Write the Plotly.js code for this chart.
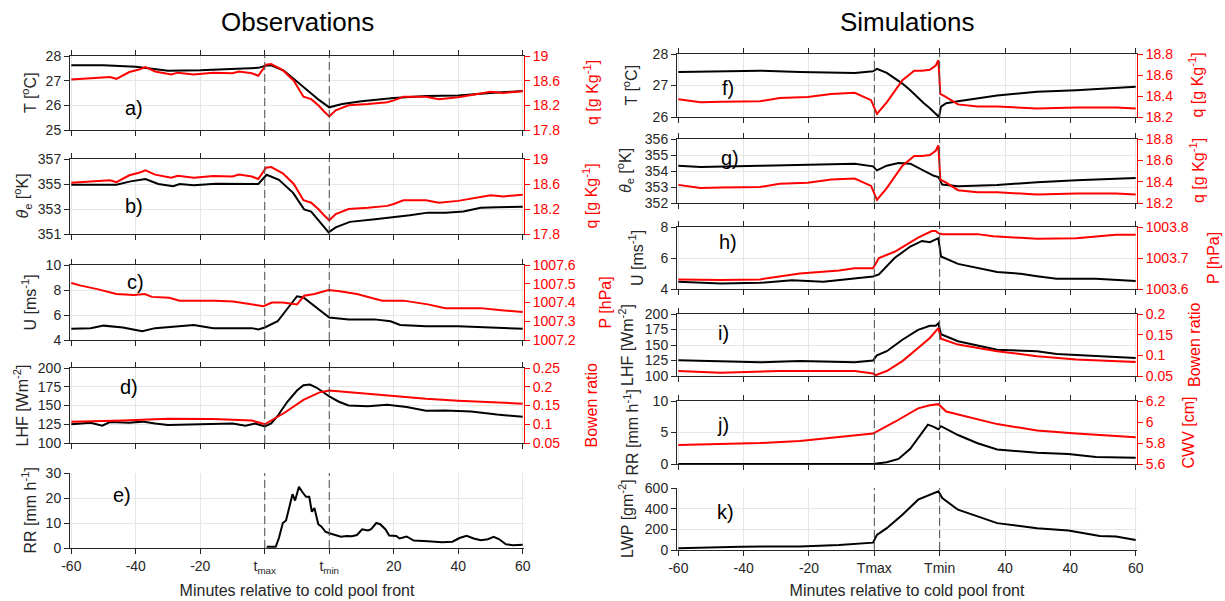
<!DOCTYPE html>
<html>
<head>
<meta charset="utf-8">
<script src="https://cdn.plot.ly/plotly-3.0.1.min.js"></script>
<style>
  html, body { margin: 0; padding: 0; background: #ffffff; }
  #chart { width: 1225px; height: 601px; }
</style>
</head>
<body>
<div id="chart"></div>
<script>
// Time axis: positions 0..7 map to the eight labelled ticks of each column.
const obsTickText = ['-60', '-40', '-20', 't<sub>max</sub>', 't<sub>min</sub>', '20', '40', '60'];
const simTickText = ['-60', '-40', '-20', 'Tmax', 'Tmin', '40', '40', '60'];
const tickPos = [0, 1, 2, 3, 4, 5, 6, 7];
const tMax = 3;
const tMin = 4;

// ---------------- Observations ----------------
const obsT_t = [0, 0.5, 1.0, 1.5, 2.0, 2.5, 2.9, 3.0, 3.1, 3.3, 3.5, 3.7, 3.85, 4.0, 4.2, 4.5, 5.0, 5.5, 6.0, 6.5, 7.0];
const obsT   = [27.63, 27.62, 27.56, 27.40, 27.42, 27.47, 27.52, 27.60, 27.62, 27.40, 26.95, 26.50, 26.20, 25.92, 26.05, 26.17, 26.30, 26.38, 26.40, 26.50, 26.58];

const obsQ_t = [0, 0.3, 0.6, 0.7, 0.9, 1.05, 1.15, 1.3, 1.55, 1.65, 1.9, 2.2, 2.5, 2.6, 2.8, 2.9, 3.02, 3.1, 3.28, 3.45, 3.6, 3.72, 3.83, 3.92, 4.0, 4.1, 4.3, 4.6, 4.9, 5.0, 5.15, 5.5, 5.7, 6.0, 6.3, 6.5, 6.7, 7.0];
const obsQ   = [18.62, 18.64, 18.66, 18.63, 18.74, 18.78, 18.82, 18.75, 18.70, 18.73, 18.70, 18.73, 18.72, 18.75, 18.72, 18.68, 18.86, 18.87, 18.77, 18.60, 18.34, 18.30, 18.20, 18.10, 18.02, 18.12, 18.20, 18.22, 18.25, 18.28, 18.34, 18.34, 18.30, 18.33, 18.38, 18.42, 18.40, 18.43];

const obsTheta_t = [0, 0.7, 0.92, 1.15, 1.35, 1.58, 1.68, 1.9, 2.24, 2.78, 2.9, 3.03, 3.22, 3.44, 3.61, 3.72, 3.88, 3.99, 4.1, 4.32, 4.71, 4.98, 5.25, 5.53, 5.8, 6.08, 6.35, 6.6, 7.0];
const obsTheta   = [354.95, 354.95, 355.21, 355.39, 355.00, 354.82, 355.00, 354.90, 355.03, 355.03, 355.00, 355.74, 355.34, 354.29, 352.97, 352.80, 351.79, 351.13, 351.53, 351.97, 352.18, 352.32, 352.50, 352.71, 352.71, 352.80, 353.10, 353.15, 353.18];

const obsU_t = [0, 0.3, 0.5, 0.8, 1.0, 1.1, 1.3, 1.6, 1.9, 2.2, 2.5, 2.8, 2.9, 3.0, 3.2, 3.35, 3.5, 3.6, 3.8, 4.0, 4.3, 4.7, 4.95, 5.1, 5.5, 6.0, 6.5, 7.0];
const obsU   = [4.90, 4.95, 5.15, 5.00, 4.80, 4.70, 4.95, 5.10, 5.20, 4.95, 4.95, 4.95, 4.85, 5.00, 5.50, 6.50, 7.50, 7.40, 6.60, 5.80, 5.65, 5.65, 5.50, 5.20, 5.10, 5.10, 5.00, 4.90];

const obsP_t = [0, 0.15, 0.42, 0.7, 0.97, 1.14, 1.25, 1.52, 1.68, 1.96, 2.24, 2.51, 2.78, 2.98, 3.11, 3.28, 3.39, 3.5, 3.61, 3.77, 3.99, 4.16, 4.43, 4.82, 5.15, 5.53, 5.8, 6.35, 6.63, 7.0];
const obsP   = [1007.504, 1007.49, 1007.47, 1007.445, 1007.44, 1007.445, 1007.43, 1007.425, 1007.41, 1007.41, 1007.41, 1007.405, 1007.39, 1007.38, 1007.40, 1007.40, 1007.395, 1007.39, 1007.436, 1007.445, 1007.466, 1007.46, 1007.445, 1007.41, 1007.41, 1007.39, 1007.37, 1007.37, 1007.36, 1007.35];

const obsLHF_t = [0, 0.3, 0.48, 0.6, 0.9, 1.1, 1.3, 1.5, 2.0, 2.5, 2.7, 2.85, 3.0, 3.1, 3.2, 3.35, 3.5, 3.6, 3.7, 3.8, 3.92, 4.0, 4.15, 4.3, 4.6, 4.9, 5.2, 5.5, 5.8, 6.2, 6.6, 7.0];
const obsLHF   = [125, 127, 123, 128, 127, 128.5, 126, 124, 125, 126, 123, 126, 122, 126, 136, 155, 170, 177, 178, 174, 167, 162, 155, 150, 149, 151, 148, 143, 143.5, 142, 138, 135];

const obsBowen_t = [0, 0.8, 1.5, 2.2, 2.8, 3.0, 3.3, 3.6, 3.85, 4.0, 4.5, 5.0, 5.5, 6.0, 6.5, 7.0];
const obsBowen   = [0.107, 0.110, 0.115, 0.114, 0.110, 0.100, 0.130, 0.165, 0.185, 0.190, 0.183, 0.175, 0.168, 0.163, 0.158, 0.155];

const obsRR_t = [3.03, 3.17, 3.22, 3.28, 3.33, 3.39, 3.43, 3.47, 3.53, 3.58, 3.64, 3.69, 3.73, 3.77, 3.83, 3.88, 3.94, 3.99, 4.1, 4.18, 4.27, 4.35, 4.43, 4.51, 4.6, 4.65, 4.73, 4.79, 4.87, 4.93, 5.04, 5.09, 5.2, 5.31, 5.53, 5.75, 5.91, 6.02, 6.13, 6.24, 6.35, 6.46, 6.55, 6.63, 6.74, 6.85, 7.0];
const obsRR   = [0.5, 0.5, 4, 10, 11, 18, 21.5, 19, 24.5, 22.5, 20.5, 20.5, 14.5, 16, 9.5, 8.5, 6.5, 6, 5, 4.5, 4.8, 4.7, 5.2, 7.5, 7, 7.5, 10, 9.5, 7.5, 5, 4.8, 3.8, 4.6, 3, 2.7, 2.3, 2.5, 4, 4.9, 3.8, 3.1, 3.5, 4.5, 3.6, 1.5, 1.1, 1.3];

// ---------------- Simulations ----------------
const simT_t = [0, 1.25, 1.86, 2.7, 2.98, 3.04, 3.19, 3.43, 3.55, 3.67, 3.75, 3.85, 3.92, 3.99, 4.02, 4.1, 4.28, 4.88, 5.49, 6.09, 7.0];
const simT   = [27.43, 27.47, 27.43, 27.40, 27.45, 27.53, 27.40, 27.06, 26.85, 26.60, 26.45, 26.28, 26.15, 26.00, 26.33, 26.44, 26.50, 26.68, 26.80, 26.85, 26.96];

const simQ_t = [0, 0.34, 0.65, 1.25, 1.55, 1.98, 2.34, 2.7, 2.95, 3.02, 3.04, 3.19, 3.43, 3.61, 3.73, 3.85, 3.94, 3.98, 4.01, 4.1, 4.28, 4.58, 4.88, 5.49, 6.09, 6.7, 7.0];
const simQ   = [18.37, 18.34, 18.345, 18.35, 18.38, 18.39, 18.42, 18.43, 18.36, 18.26, 18.23, 18.34, 18.55, 18.64, 18.64, 18.65, 18.69, 18.74, 18.42, 18.39, 18.32, 18.30, 18.30, 18.28, 18.29, 18.29, 18.28];

const simTheta_t = [0, 0.34, 1.25, 2.16, 2.7, 2.98, 3.04, 3.19, 3.37, 3.55, 3.73, 3.91, 3.98, 4.04, 4.28, 4.88, 5.49, 6.09, 7.0];
const simTheta   = [354.33, 354.25, 354.33, 354.42, 354.46, 354.29, 354.04, 354.33, 354.50, 354.46, 354.08, 353.70, 353.62, 353.15, 353.04, 353.13, 353.29, 353.42, 353.56];

const simU_t = [0, 0.65, 1.25, 1.74, 2.22, 2.46, 2.98, 3.07, 3.31, 3.55, 3.73, 3.85, 3.94, 3.98, 4.02, 4.28, 4.88, 5.24, 5.49, 5.79, 6.39, 6.7, 7.0];
const simU   = [4.47, 4.36, 4.40, 4.57, 4.47, 4.57, 4.81, 4.94, 6.00, 6.74, 7.10, 7.02, 7.17, 7.28, 6.10, 5.62, 5.10, 4.98, 4.83, 4.66, 4.66, 4.60, 4.51];

const simP_t = [0, 0.65, 1.25, 1.86, 2.46, 2.7, 2.98, 3.07, 3.31, 3.67, 3.88, 3.94, 3.98, 4.04, 4.58, 4.82, 5.49, 6.09, 6.7, 7.0];
const simP   = [1003.631, 1003.629, 1003.631, 1003.650, 1003.660, 1003.667, 1003.667, 1003.700, 1003.720, 1003.766, 1003.787, 1003.787, 1003.780, 1003.777, 1003.777, 1003.770, 1003.762, 1003.764, 1003.775, 1003.775];

const simLHF_t = [0, 1.25, 1.86, 2.7, 2.98, 3.04, 3.19, 3.43, 3.67, 3.85, 3.94, 3.98, 4.02, 4.28, 4.88, 5.49, 5.79, 6.39, 7.0];
const simLHF   = [125.5, 122, 124, 122, 125, 133.5, 140, 158.5, 174.5, 181, 181, 185, 167.5, 156, 142.5, 140, 135.6, 132, 129];

const simBowen_t = [0, 0.65, 1.55, 2.7, 2.98, 3.02, 3.19, 3.43, 3.67, 3.85, 3.98, 4.02, 4.28, 4.88, 5.49, 6.09, 7.0];
const simBowen   = [0.062, 0.058, 0.062, 0.062, 0.056, 0.052, 0.062, 0.086, 0.118, 0.142, 0.166, 0.140, 0.126, 0.110, 0.098, 0.090, 0.084];

const simRR_t = [0, 2.98, 3.19, 3.37, 3.55, 3.67, 3.76, 3.82, 3.91, 3.98, 4.02, 4.28, 4.58, 4.88, 5.49, 5.97, 6.39, 7.0];
const simRR   = [0, 0, 0.27, 0.8, 2.4, 4.1, 5.4, 6.25, 5.9, 5.5, 6.0, 4.6, 3.3, 2.3, 1.8, 1.6, 1.1, 1.0];

const simCWV_t = [0, 1.25, 1.86, 2.46, 2.98, 3.31, 3.67, 3.85, 3.98, 4.1, 4.58, 4.88, 5.49, 6.09, 7.0];
const simCWV   = [5.78, 5.80, 5.82, 5.855, 5.89, 6.00, 6.13, 6.16, 6.17, 6.10, 6.03, 5.98, 5.92, 5.89, 5.855];

const simLWP_t = [0, 0.95, 1.86, 2.46, 2.98, 3.04, 3.19, 3.43, 3.67, 3.79, 3.88, 3.98, 4.04, 4.28, 4.58, 4.88, 5.49, 5.97, 6.45, 6.7, 7.0];
const simLWP   = [16, 32, 35, 49, 71, 146, 211, 341, 487, 519, 540, 568, 503, 390, 325, 260, 211, 188, 136, 130, 97];

// ---------------- Figure ----------------
const W = 1225, H = 601;
const FONT = 'Liberation Sans, Arial, Helvetica, sans-serif';
const AXIS_GREY = '#262626';
const RED = '#ff0000';
const GRID = '#e6e6e6';
const LABEL_SIZE = 16;

const obsDomainX = [70 / W, 524 / W];
const simDomainX = [677 / W, 1137 / W];

// lx / rx: horizontal centre (px) of the left / right axis labels
const panels = [
  { col: 'obs', top: 56, bot: 130, tag: 'a)', tx: 0.14, ty: 0.30, lx: 29, rx: 591,
    L: { t: obsT_t, v: obsT, range: [25, 28], ticks: [25, 26, 27, 28], title: 'T [<sup>o</sup>C]' },
    R: { t: obsQ_t, v: obsQ, range: [17.8, 19], ticks: [17.8, 18.2, 18.6, 19], title: 'q [g Kg<sup>-1</sup>]' } },
  { col: 'obs', top: 159, bot: 234, tag: 'b)', tx: 0.14, ty: 0.37, lx: 23, rx: 591,
    L: { t: obsTheta_t, v: obsTheta, range: [351, 357], ticks: [351, 353, 355, 357], title: '<i>θ</i><sub>e</sub> [<sup>o</sup>K]' },
    R: { t: obsQ_t, v: obsQ, range: [17.8, 19], ticks: [17.8, 18.2, 18.6, 19], title: 'q [g Kg<sup>-1</sup>]' } },
  { col: 'obs', top: 265, bot: 340, tag: 'c)', tx: 0.145, ty: 0.77, lx: 29, rx: 605,
    L: { t: obsU_t, v: obsU, range: [4, 10], ticks: [4, 6, 8, 10], title: 'U [ms<sup>-1</sup>]' },
    R: { t: obsP_t, v: obsP, range: [1007.2, 1007.6], ticks: [1007.2, 1007.3, 1007.4, 1007.5, 1007.6], title: 'P [hPa]' } },
  { col: 'obs', top: 368, bot: 443, tag: 'd)', tx: 0.13, ty: 0.75, lx: 21, rx: 591,
    L: { t: obsLHF_t, v: obsLHF, range: [100, 200], ticks: [100, 125, 150, 175, 200], title: 'LHF [Wm<sup>-2</sup>]' },
    R: { t: obsBowen_t, v: obsBowen, range: [0.05, 0.25], ticks: [0.05, 0.1, 0.15, 0.2, 0.25], title: 'Bowen ratio' } },
  { col: 'obs', top: 473, bot: 548, tag: 'e)', tx: 0.115, ty: 0.71, lx: 29, bottom: true,
    L: { t: obsRR_t, v: obsRR, range: [0, 30], ticks: [0, 10, 20, 30], title: 'RR [mm h<sup>-1</sup>]' } },

  { col: 'sim', top: 54, bot: 117, tag: 'f)', tx: 0.11, ty: 0.46, lx: 631, rx: 1197,
    L: { t: simT_t, v: simT, range: [26, 28], ticks: [26, 27, 28], title: 'T [<sup>o</sup>C]' },
    R: { t: simQ_t, v: simQ, range: [18.2, 18.8], ticks: [18.2, 18.4, 18.6, 18.8], title: 'q [g Kg<sup>-1</sup>]' } },
  { col: 'sim', top: 139, bot: 203, tag: 'g)', tx: 0.115, ty: 0.70, lx: 625, rx: 1197,
    L: { t: simTheta_t, v: simTheta, range: [352, 356], ticks: [352, 353, 354, 355, 356], title: '<i>θ</i><sub>e</sub> [<sup>o</sup>K]' },
    R: { t: simQ_t, v: simQ, range: [18.2, 18.8], ticks: [18.2, 18.4, 18.6, 18.8], title: 'q [g Kg<sup>-1</sup>]' } },
  { col: 'sim', top: 227, bot: 289, tag: 'h)', tx: 0.11, ty: 0.76, lx: 636, rx: 1213,
    L: { t: simU_t, v: simU, range: [4, 8], ticks: [4, 6, 8], title: 'U [ms<sup>-1</sup>]' },
    R: { t: simP_t, v: simP, range: [1003.6, 1003.8], ticks: [1003.6, 1003.7, 1003.8], title: 'P [hPa]' } },
  { col: 'sim', top: 314, bot: 376, tag: 'i)', tx: 0.10, ty: 0.69, lx: 626, rx: 1194,
    L: { t: simLHF_t, v: simLHF, range: [100, 200], ticks: [100, 125, 150, 175, 200], title: 'LHF [Wm<sup>-2</sup>]' },
    R: { t: simBowen_t, v: simBowen, range: [0.05, 0.2], ticks: [0.05, 0.1, 0.15, 0.2], title: 'Bowen ratio' } },
  { col: 'sim', top: 401, bot: 464, tag: 'j)', tx: 0.10, ty: 0.62, lx: 631, rx: 1188,
    L: { t: simRR_t, v: simRR, range: [0, 10], ticks: [0, 5, 10], title: 'RR [mm h<sup>-1</sup>]' },
    R: { t: simCWV_t, v: simCWV, range: [5.6, 6.2], ticks: [5.6, 5.8, 6, 6.2], title: 'CWV [cm]' } },
  { col: 'sim', top: 488, bot: 550, tag: 'k)', tx: 0.105, ty: 0.61, lx: 626, bottom: true,
    L: { t: simLWP_t, v: simLWP, range: [0, 600], ticks: [0, 200, 400, 600], title: 'LWP [gm<sup>-2</sup>]' } }
];

const N = panels.length;
const traces = [];
const layout = {
  width: W, height: H,
  margin: { l: 0, r: 0, t: 0, b: 0 },
  paper_bgcolor: '#ffffff', plot_bgcolor: 'rgba(0,0,0,0)',
  showlegend: false,
  font: { family: FONT, size: 14, color: AXIS_GREY },
  shapes: [], annotations: []
};

function key(letter, n) { return n === 1 ? letter + 'axis' : letter + 'axis' + n; }
function ref(letter, n) { return n === 1 ? letter : letter + n; }
function label(v) { return String(v); }

function sideTitle(text, xPx, p, color) {
  return {
    text: text, textangle: -90, xref: 'paper', yref: 'paper',
    x: xPx / W, y: 1 - (p.top + p.bot) / 2 / H,
    xanchor: 'center', yanchor: 'middle', showarrow: false,
    font: { family: FONT, size: LABEL_SIZE, color: color }
  };
}

panels.forEach((p, i) => {
  const n = i + 1;          // x axis and left y axis number
  const m = N + i + 1;      // right y axis number
  const boxed = !p.bottom;
  const dom = [1 - p.bot / H, 1 - p.top / H];
  const isObs = p.col === 'obs';

  layout[key('x', n)] = {
    domain: isObs ? obsDomainX : simDomainX,
    anchor: ref('y', n),
    range: [-0.02, 7.02],
    tickmode: 'array', tickvals: tickPos,
    ticktext: isObs ? obsTickText : simTickText,
    showticklabels: !!p.bottom,
    ticks: 'outside', ticklen: 5, tickwidth: 1, tickcolor: AXIS_GREY,
    showline: true, linecolor: AXIS_GREY, linewidth: 1,
    mirror: boxed ? 'ticks' : false,
    showgrid: true, gridcolor: GRID, gridwidth: 1,
    zeroline: false, fixedrange: true,
    tickfont: { family: FONT, size: 14, color: AXIS_GREY }
  };
  if (p.bottom) {
    layout[key('x', n)].title = {
      text: 'Minutes relative to cold pool front',
      font: { family: FONT, size: LABEL_SIZE, color: AXIS_GREY },
      standoff: 10
    };
  }

  layout[key('y', n)] = {
    domain: dom, anchor: ref('x', n),
    range: p.L.range, tickmode: 'array', tickvals: p.L.ticks, ticktext: p.L.ticks.map(label),
    ticks: 'outside', ticklen: 5, tickwidth: 1, tickcolor: AXIS_GREY,
    showline: true, linecolor: AXIS_GREY, linewidth: 1,
    showgrid: true, gridcolor: GRID, gridwidth: 1,
    zeroline: false, fixedrange: true,
    tickfont: { family: FONT, size: 14, color: AXIS_GREY }
  };
  layout.annotations.push(sideTitle(p.L.title, p.lx, p, AXIS_GREY));

  traces.push({
    type: 'scatter', mode: 'lines', x: p.L.t, y: p.L.v,
    xaxis: ref('x', n), yaxis: ref('y', n),
    line: { color: '#000000', width: 2 }, hoverinfo: 'skip'
  });

  if (p.R) {
    layout[key('y', m)] = {
      domain: dom, anchor: ref('x', n), overlaying: ref('y', n), side: 'right',
      range: p.R.range, tickmode: 'array', tickvals: p.R.ticks, ticktext: p.R.ticks.map(label),
      ticks: 'outside', ticklen: 5, tickwidth: 1, tickcolor: RED,
      showline: true, linecolor: RED, linewidth: 1,
      showgrid: false, zeroline: false, fixedrange: true,
      tickfont: { family: FONT, size: 14, color: RED }
    };
    layout.annotations.push(sideTitle(p.R.title, p.rx, p, RED));
    traces.push({
      type: 'scatter', mode: 'lines', x: p.R.t, y: p.R.v,
      xaxis: ref('x', n), yaxis: ref('y', m),
      line: { color: RED, width: 2 }, hoverinfo: 'skip'
    });
  }

  // dashed markers at the passage times
  [tMax, tMin].forEach(tx => {
    layout.shapes.push({
      type: 'line', xref: ref('x', n), yref: ref('y', n) + ' domain',
      x0: tx, x1: tx, y0: 0, y1: 1,
      line: { color: '#4d4d4d', width: 1, dash: '8px,4px' }, layer: 'above'
    });
  });

  layout.annotations.push({
    text: p.tag, xref: ref('x', n) + ' domain', yref: ref('y', n) + ' domain',
    x: p.tx, y: p.ty, xanchor: 'center', yanchor: 'middle', showarrow: false,
    font: { family: FONT, size: 20, color: '#000000' }
  });
});

layout.annotations.push(
  { text: 'Observations', xref: 'paper', yref: 'paper', x: 297 / W, y: 1 - 22 / H,
    xanchor: 'center', yanchor: 'middle', showarrow: false,
    font: { family: FONT, size: 26, color: '#000000' } },
  { text: 'Simulations', xref: 'paper', yref: 'paper', x: 907 / W, y: 1 - 22 / H,
    xanchor: 'center', yanchor: 'middle', showarrow: false,
    font: { family: FONT, size: 26, color: '#000000' } }
);

Plotly.newPlot('chart', traces, layout, { staticPlot: true, displayModeBar: false });
</script>
</body>
</html>
